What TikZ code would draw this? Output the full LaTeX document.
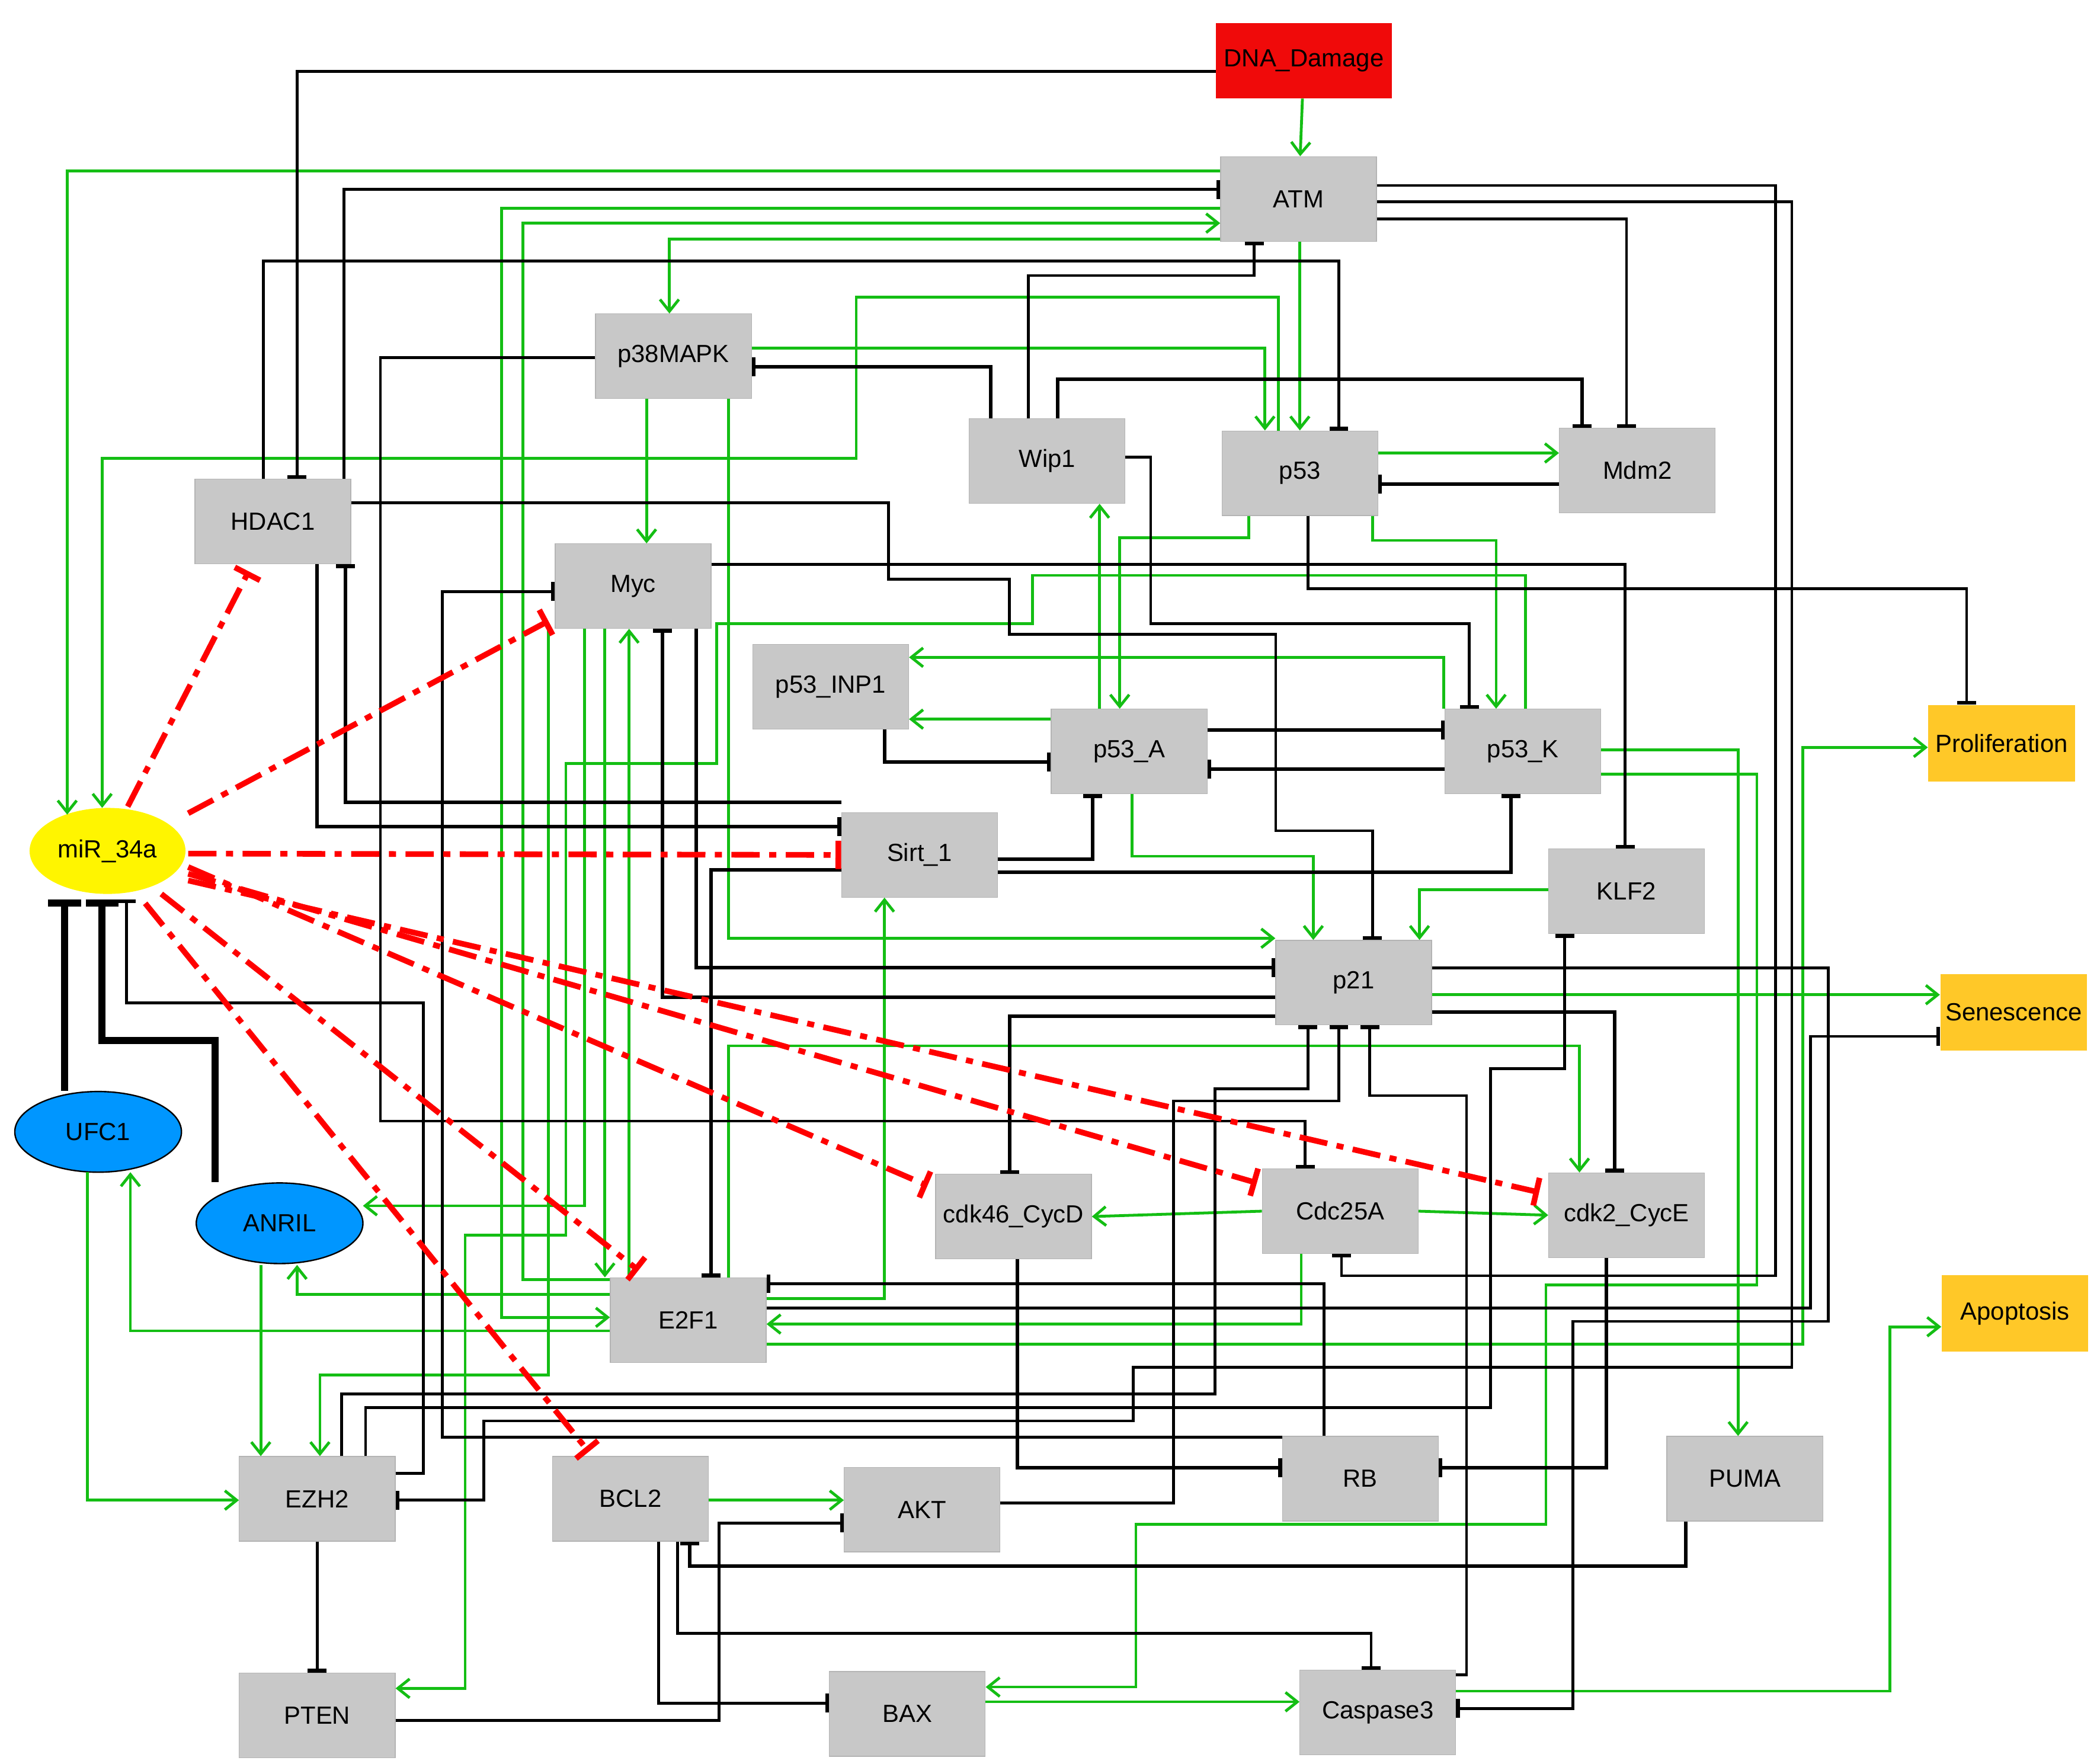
\documentclass[tikz,border=0pt]{standalone}
\usepackage{fontspec}
\setmainfont{Liberation Sans}
\usetikzlibrary{arrows.meta,shapes.geometric}
\definecolor{gbox}{RGB}{200,200,200}
\definecolor{gl}{RGB}{20,190,20}
\definecolor{dnared}{RGB}{240,10,10}
\definecolor{orng}{RGB}{255,200,40}
\definecolor{blu}{RGB}{0,150,255}
\definecolor{yel}{RGB}{255,245,0}
\begin{document}
\begin{tikzpicture}[x=0.02cm,y=-0.02cm,
  font=\fontsize{10.5}{12}\selectfont,
  box/.style={rectangle,fill=gbox,draw=gbox!90!black,line width=0.3pt,minimum width=2.32cm,minimum height=1.26cm,inner sep=1pt},
  outc/.style={rectangle,fill=orng,minimum width=2.18cm,minimum height=1.14cm,inner sep=1pt},
  ell/.style={ellipse,fill=blu,draw=black,line width=0.6pt,minimum width=2.48cm,minimum height=1.2cm,inner sep=0pt},
  ga/.style={gl,line width=1.2pt,-{Straight Barb[length=5pt,width=8pt]}},
  bi/.style={black,line width=1.5pt,-{Bar[width=8pt,line width=1.6pt]}},
  bt/.style={black,line width=1.2pt,-{Bar[width=8pt,line width=1.6pt]}},
  bk/.style={black,line width=3pt,-{Bar[width=14pt,line width=3pt]}},
  rd/.style={red,line width=2.4pt,dash pattern=on 12pt off 4pt on 3pt off 4pt,-{Bar[width=12pt,line width=2.4pt]}}]
\useasboundingbox (0,0) rectangle (1560,1312);
% nodes
\node[rectangle,fill=dnared,minimum width=2.48cm,minimum height=1.12cm] (DNA) at (970,45) {DNA\_Damage};
\node[box] (ATM) at (966,148) {ATM};
\node[box] (p38) at (501,265) {p38MAPK};
\node[box] (Wip1) at (779,343) {Wip1};
\node[box] (p53) at (967,352) {p53};
\node[box] (Mdm2) at (1218,350) {Mdm2};
\node[box] (HDAC1) at (203,388) {HDAC1};
\node[box] (Myc) at (471,436) {Myc};
\node[box] (INP1) at (618,511) {p53\_INP1};
\node[box] (p53A) at (840,559) {p53\_A};
\node[box] (p53K) at (1133,559) {p53\_K};
\node[outc] (Prolif) at (1489,553) {Proliferation};
\node[ellipse,fill=yel,minimum width=2.32cm,minimum height=1.28cm,inner sep=0pt] (miR) at (80,633) {miR\_34a};
\node[box] (Sirt) at (684,636) {Sirt\_1};
\node[box] (KLF2) at (1210,663) {KLF2};
\node[box] (p21) at (1007,731) {p21};
\node[outc] (Sen) at (1498,753) {Senescence};
\node[ell] (UFC1) at (73,842) {UFC1};
\node[ell] (ANRIL) at (208,910) {ANRIL};
\node[box] (cdk46) at (754,905) {cdk46\_CycD};
\node[box] (Cdc) at (997,901) {Cdc25A};
\node[box] (cdk2) at (1210,904) {cdk2\_CycE};
\node[outc] (Apop) at (1499,977) {Apoptosis};
\node[box] (E2F1) at (512,982) {E2F1};
\node[box] (EZH2) at (236,1115) {EZH2};
\node[box] (BCL2) at (469,1115) {BCL2};
\node[box] (AKT) at (686,1123) {AKT};
\node[box] (RB) at (1012,1100) {RB};
\node[box] (PUMA) at (1298,1100) {PUMA};
\node[box] (PTEN) at (236,1276) {PTEN};
\node[box] (BAX) at (675,1275) {BAX};
\node[box] (Casp) at (1025,1274) {Caspase3};
% green activations
\draw[ga] (DNA) -- (ATM);
\draw[ga] (ATM.west|-0,127) -| (50,606);
\draw[ga] (p53.north -| 951,0) -- (951,221) -| (637,341) -| (76,601);
\draw[ga] (ATM.west|-0,155) -| (373,980) -- (E2F1.west|-0,980);
\draw[ga] (E2F1.west|-0,952) -| (389,166) -- (ATM.west|-0,166);
\draw[ga] (ATM.west|-0,178) -| (p38.north -| 498,0);
\draw[ga] (ATM.south -| 967,0) -- (p53.north -| 967,0);
\draw[ga] (p38.east|-0,259) -| (p53.north -| 941,0);
\draw[ga] (p38.south -| 481,0) -- (Myc.north -| 481,0);
\draw[ga] (p38.south -| 542,0) -- (542,698) -- (p21.west|-0,698);
\draw[ga] (p53.east|-0,337) -- (Mdm2.west|-0,337);
\draw[ga] (p53.south -| 929,0) |- (833,400) -- (p53A.north -| 833,0);
\draw[ga] (p53.south -| 1021,0) |- (1113,402) -- (p53K.north -| 1113,0);
\draw[ga] (p53A.north -| 818,0) -- (Wip1.south -| 818,0);
\draw[ga] (p53A.west|-0,535) -- (INP1.east|-0,535);
\draw[ga] (p53K.north -| 1074,0) |- (INP1.east|-0,489);
\draw[ga] (p53K.north -| 1135,0) |- (768,428) |- (533,464) |- (421,568) |- (346,919) |- (PTEN.east|-0,1256);
\draw[ga] (p53A.south -| 842,0) |- (977,637) -- (p21.north -| 977,0);
\draw[ga] (KLF2.west|-0,662) -| (p21.north -| 1056,0);
\draw[ga] (p53K.east|-0,558) -| (PUMA.north -| 1293,0);
\draw[ga] (p53K.east|-0,576) -| (1307,956) -| (1150,1134) -| (845,1255) -- (BAX.east|-0,1255);
\draw[ga] (p21.east|-0,740) -- (Sen.west|-0,740);
\draw[ga] (E2F1.east|-0,1000) -| (1341,556) -- (Prolif.west|-0,556);
\draw[ga] (Cdc.west) -- (cdk46.east);
\draw[ga] (Cdc.east) -- (cdk2.west);
\draw[ga] (E2F1.north -| 542,0) |- (1175,778) -- (cdk2.north -| 1175,0);
\draw[ga] (E2F1.east|-0,966) -| (Sirt.south -| 658,0);
\draw[ga] (Cdc.south -| 968,0) |- (E2F1.east|-0,985);
\draw[ga] (Myc.south -| 435,0) |- (270,897);
\draw[ga] (Myc.south -| 450,0) -- (E2F1.north -| 450,0);
\draw[ga] (E2F1.north -| 468,0) -- (Myc.south -| 468,0);
\draw[ga] (Myc.south -| 408,0) |- (238,1023) -- (EZH2.north -| 238,0);
\draw[ga] (E2F1.west|-0,963) -| (221,941);
\draw[ga] (E2F1.west|-0,990) -| (97,872);
\draw[ga] (194,941) -- (EZH2.north -| 194,0);
\draw[ga] (65,872) |- (EZH2.west|-0,1116);
\draw[ga] (BCL2.east|-0,1116) -- (AKT.west|-0,1116);
\draw[ga] (BAX.east|-0,1266) -- (Casp.west|-0,1266);
\draw[ga] (Casp.east|-0,1258) -| (1406,987) -- (Apop.west|-0,987);
% black inhibitions
\draw[bt] (DNA.west|-0,53) -| (HDAC1.north -| 221,0);
\draw[bt] (HDAC1.north -| 256,0) |- (ATM.west|-0,141);
\draw[bt] (HDAC1.north -| 196,0) |- (996,194) -- (p53.north -| 996,0);
\draw[bt] (Wip1.north -| 765,0) |- (933,205) -- (ATM.south -| 933,0);
\draw[bi] (Wip1.north -| 737,0) |- (p38.east|-0,273);
\draw[bi] (Wip1.north -| 787,0) |- (1177,282) -- (Mdm2.north -| 1177,0);
\draw[bt] (ATM.east|-0,163) -| (Mdm2.north -| 1210,0);
\draw[bi] (Mdm2.west|-0,360) -- (p53.east|-0,360);
\draw[bt] (ATM.east|-0,138) -| (1321,949) -| (Cdc.south -| 998,0);
\draw[bt] (ATM.east|-0,150) -| (1333,1017) -| (843,1057) -| (360,1116) -- (EZH2.east|-0,1116);
\draw[bt] (p38.west|-0,266) -| (283,834) -| (Cdc.north -| 971,0);
\draw[bt] (HDAC1.east|-0,374) -| (661,431) -| (751,472) -| (949,618) -| (p21.north -| 1021,0);
\draw[bt] (Wip1.east|-0,340) -| (856,464) -| (p53K.north -| 1093,0);
\draw[bt] (Myc.east|-0,420) -| (KLF2.north -| 1209,0);
\draw[bt] (p53.south -| 973,0) |- (1463,438) -- (Prolif.north -| 1463,0);
\draw[bi] (p53A.east|-0,543) -- (p53K.west|-0,543);
\draw[bi] (p53K.west|-0,572) -- (p53A.east|-0,572);
\draw[bi] (INP1.south -| 658,0) |- (p53A.west|-0,567);
\draw[bi] (Sirt.east|-0,639) -| (p53A.south -| 813,0);
\draw[bi] (Sirt.east|-0,649) -| (p53K.south -| 1124,0);
\draw[bi] (HDAC1.south -| 236,0) |- (Sirt.west|-0,615);
\draw[bi] (Sirt.west|-0,597) -| (HDAC1.south -| 257,0);
\draw[bi] (Myc.south -| 518,0) |- (p21.west|-0,720);
\draw[bi] (p21.west|-0,742) -| (Myc.south -| 493,0);
\draw[bt] (RB.west|-0,1069) -| (329,440) -- (Myc.west|-0,440);
\draw[bi] (Sirt.west|-0,647) -| (E2F1.north -| 529,0);
\draw[bi] (p21.west|-0,756) -| (cdk46.north -| 751,0);
\draw[bi] (p21.east|-0,753) -| (cdk2.north -| 1201,0);
\draw[bt] (p21.east|-0,720) -| (1360,983) -| (1170,1271) -- (Casp.east|-0,1271);
\draw[bt] (EZH2.north -| 254,0) |- (904,1037) |- (973,810) -- (p21.south -| 973,0);
\draw[bt] (AKT.east|-0,1118) -| (873,819) -| (p21.south -| 996,0);
\draw[bt] (Casp.east|-0,1246) -| (1091,815) -| (p21.south -| 1019,0);
\draw[bt] (EZH2.north -| 272,0) |- (1109,1047) |- (1164,795) -- (KLF2.south -| 1164,0);
\draw[bt] (EZH2.east|-0,1096) -| (315,746) -| (94,669);
\draw[bk] (UFC1.north -| 48,0) -- (48,669);
\draw[bk] (ANRIL.north -| 160,0) |- (76,774) -- (76,669);
\draw[bi] (cdk46.south -| 757,0) |- (RB.west|-0,1092);
\draw[bi] (cdk2.south -| 1195,0) |- (RB.east|-0,1092);
\draw[bt] (RB.north -| 985,0) |- (E2F1.east|-0,955);
\draw[bt] (E2F1.east|-0,973) -| (1347,771) -- (Sen.west|-0,771);
\draw[bi] (PUMA.south -| 1254,0) |- (513,1165) -- (BCL2.south -| 513,0);
\draw[bt] (BCL2.south -| 490,0) |- (BAX.west|-0,1267);
\draw[bt] (BCL2.south -| 504,0) |- (1020,1215) -- (Casp.north -| 1020,0);
\draw[bt] (PTEN.east|-0,1280) -| (535,1133) -- (AKT.west|-0,1133);
\draw[bt] (EZH2.south) -- (PTEN.north);
% red miR_34a inhibitions
\draw[rd] (95,600) -- (185,425);
\draw[rd] (140,605) -- (408,462);
\draw[rd] (140,635) -- (Sirt.west);
\draw[rd] (140,645) -- (690,882);
\draw[rd] (140,650) -- (935,880);
\draw[rd] (140,655) -- (1145,887);
\draw[rd] (120,665) -- (475,945);
\draw[rd] (108,672) -- (438,1080);
\end{tikzpicture}
\end{document}
